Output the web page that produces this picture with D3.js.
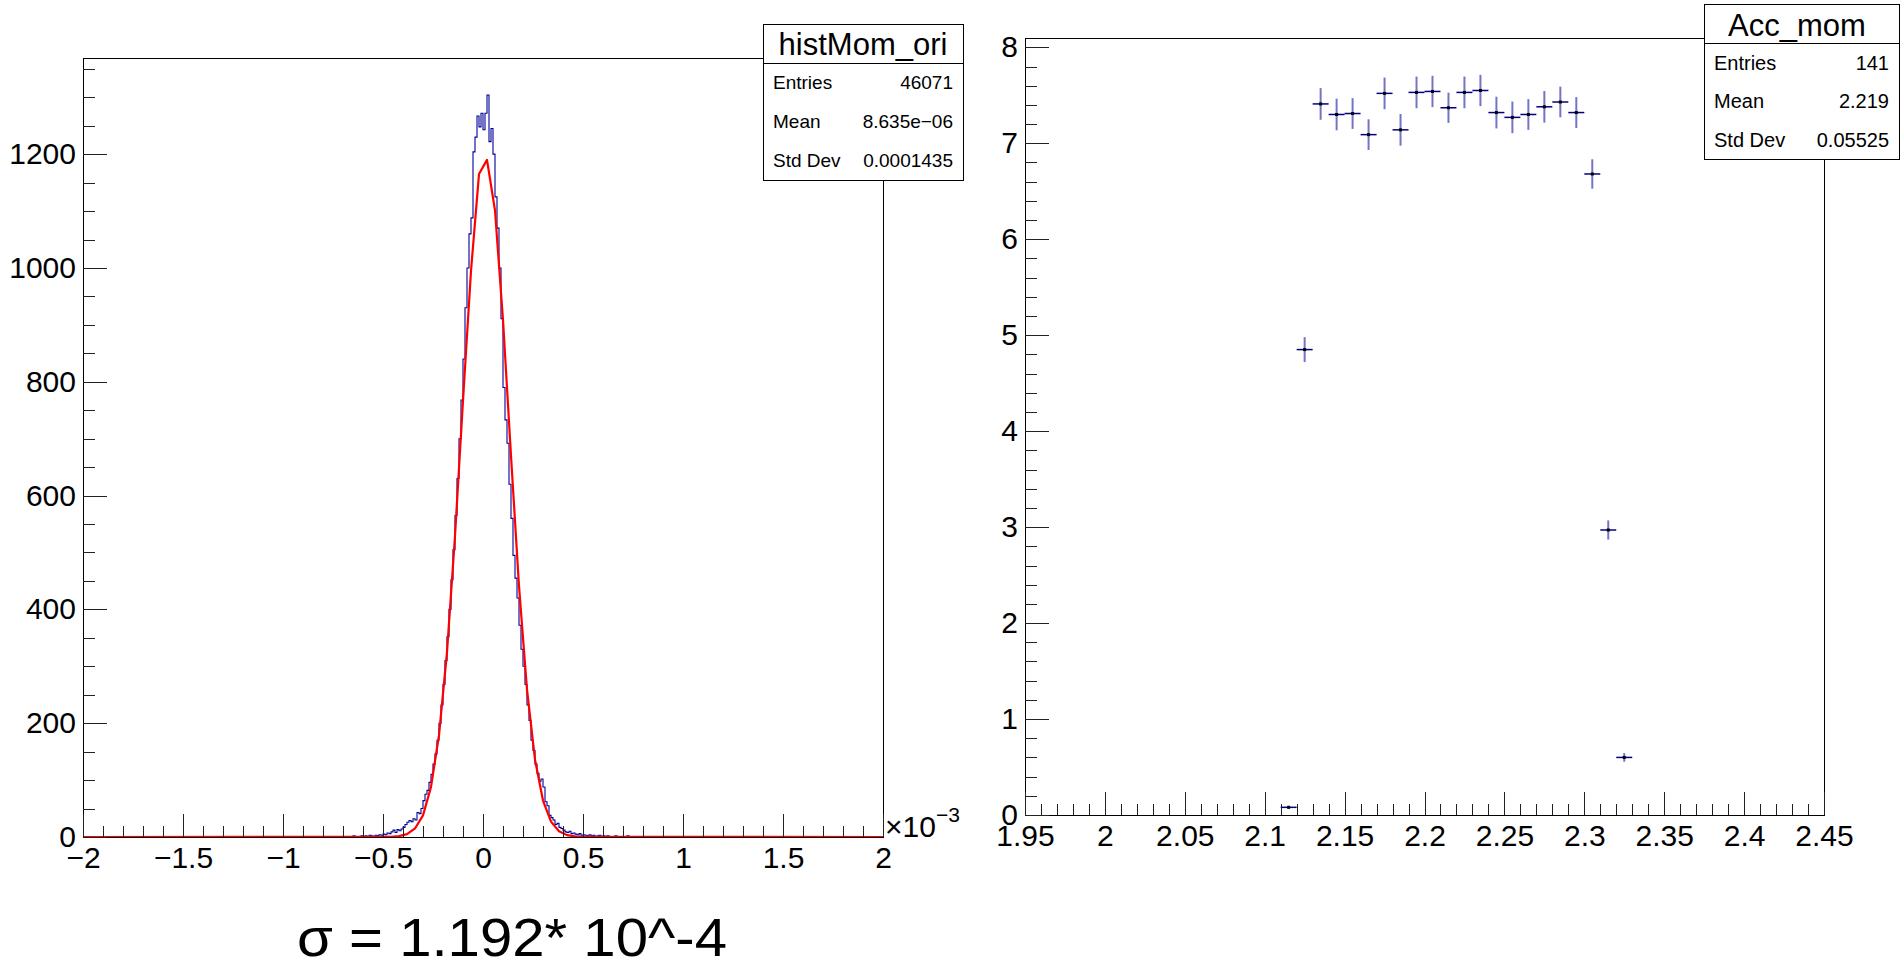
<!DOCTYPE html>
<html>
<head>
<meta charset="utf-8">
<script src="https://cdn.jsdelivr.net/npm/d3@7"></script>
<style>
  body { margin: 0; background: #fff; }
  text { font-family: "Liberation Sans", Arial, Helvetica, sans-serif; fill: #000; }
</style>
</head>
<body>
<script>
// data prep: histMom_ori (x in units of 1e-3), bins of 0.01
let histLowEdge = -1.0;
let histBinWidth = 0.01;
let histCounts = [
    1, 0, 0, 0, 0, 0, 0, 0, 0, 0,
    0, 0, 0, 0, 0, 0, 0, 0, 0, 0,
    0, 0, 0, 0, 1, 0, 0, 1, 0, 0,
    0, 1, 0, 1, 0, 2, 1, 0, 1, 2,
    1, 2, 1, 3, 2, 1, 3, 2, 4, 3,
    5, 4, 7, 6, 9, 12, 8, 13, 11, 14,
    17, 22, 26, 29, 27, 32, 30, 43, 41, 50,
    64, 75, 82, 96, 110, 128, 146, 170, 200, 232,
    268, 310, 352, 400, 452, 505, 565, 630, 700, 768,
    840, 930, 1000, 1060, 1088, 1204, 1230, 1267, 1248, 1272,
    1243, 1272, 1304, 1222, 1245, 1200, 1125, 1070, 1000, 911,
    790, 733, 692, 620, 560, 495, 455, 420, 372, 330,
    300, 268, 232, 205, 170, 152, 128, 112, 98, 102,
    88, 62, 55, 38, 34, 30, 22, 24, 17, 15,
    12, 9, 8, 10, 6, 7, 5, 4, 6, 3,
    4, 3, 2, 4, 2, 3, 1, 2, 3, 1,
    2, 1, 2, 1, 0, 1, 2, 0, 1, 1,
    1, 0, 2, 1, 0, 0, 1, 0, 0, 0,
    0, 0, 0, 1, 0, 0, 0, 0, 0, 0,
    0, 0, 1, 0, 0, 0, 0, 0, 0, 0
];
// gaussian fit curve
let fitX = [-2.0, -0.50, -0.46, -0.42, -0.38, -0.34, -0.30, -0.26, -0.22, -0.18, -0.14, -0.10, -0.06, -0.02,
            0.02, 0.06, 0.10, 0.14, 0.18, 0.22, 0.26, 0.30, 0.34, 0.38, 0.42, 0.46, 0.50, 2.0];
let fitY = [0, 0.2, 0.4, 1.6, 5, 15, 38, 88, 179, 325, 529, 767, 995, 1165,
            1190, 1101, 909, 670, 441, 259, 136, 64, 27, 10, 3.3, 1.0, 0.3, 0];

// Acc_mom points
let accBinWidth = 0.01;
let accCenters = [2.115, 2.125, 2.135, 2.145, 2.155, 2.165, 2.175, 2.185, 2.195, 2.205, 2.215,
                  2.225, 2.235, 2.245, 2.255, 2.265, 2.275, 2.285, 2.295, 2.305, 2.315, 2.325];
let accValues = [0.08, 4.85, 7.41, 7.30, 7.31, 7.09, 7.52, 7.14, 7.53, 7.54, 7.37,
                 7.53, 7.55, 7.32, 7.27, 7.30, 7.38, 7.43, 7.32, 6.68, 2.97, 0.60];
let accErrors = [0.015, 0.13, 0.165, 0.165, 0.16, 0.16, 0.165, 0.165, 0.165, 0.163, 0.158,
                 0.165, 0.163, 0.165, 0.165, 0.16, 0.165, 0.16, 0.161, 0.153, 0.10, 0.045];

// tick labels
let leftXTicks = [-2, -1.5, -1, -0.5, 0, 0.5, 1, 1.5, 2];
let leftYTicks = [0, 200, 400, 600, 800, 1000, 1200];
let rightXTicks = [1.95, 2, 2.05, 2.1, 2.15, 2.2, 2.25, 2.3, 2.35, 2.4, 2.45];
let rightYTicks = [0, 1, 2, 3, 4, 5, 6, 7, 8];

// stats boxes
let statsLeftTitle = "histMom_ori";
let statsLeftRows = [["Entries", "46071"], ["Mean", "8.635e\u221206"], ["Std Dev", "0.0001435"]];
let statsRightTitle = "Acc_mom";
let statsRightRows = [["Entries", "141"], ["Mean", "2.219"], ["Std Dev", "0.05525"]];

// colors
let colorHist = "#000099";
let colorFit = "#ff0000";
let colorErr = "#000080";

let width = 1901,
    height = 968;

let svg = d3.select("body").append("svg")
    .attr("width", width)
    .attr("height", height);

svg.append("rect").attr("width", width).attr("height", height).attr("fill", "#fff");

let minus = s => String(s).replace("-", "\u2212");

// ---------- left pad ----------
let leftX = d3.scaleLinear().domain([-2, 2]).range([83, 883]);
let leftY = d3.scaleLinear().domain([0, 1369]).range([837, 58]);

let left = svg.append("g");

// histogram outline
let histPoints = [[-2, 0], [histLowEdge, 0]];
histCounts.forEach(function(c, i) {
    let x0 = histLowEdge + i * histBinWidth;
    histPoints.push([x0, c], [x0 + histBinWidth, c]);
});
histPoints.push([histLowEdge + histCounts.length * histBinWidth, 0], [2, 0]);

let line = d3.line().x(d => leftX(d[0])).y(d => leftY(d[1]));

left.append("path")
    .attr("d", line(histPoints))
    .style("fill", "none")
    .style("stroke", colorHist)
    .style("stroke-width", 1.1);

left.append("path")
    .attr("d", line(fitX.map((x, i) => [x, fitY[i]])))
    .style("fill", "none")
    .style("stroke", colorFit)
    .style("stroke-width", 2.2)
    .style("stroke-linejoin", "round");

// frame
left.append("rect")
    .attr("x", 83).attr("y", 58).attr("width", 800).attr("height", 779)
    .attr("fill", "none").attr("stroke", "#000").attr("stroke-width", 1)
    .attr("shape-rendering", "crispEdges");

function drawAxes(g, x, y, xTicks, yTicks, xMinor, yMinor, xFmt) {
    let bottom = y.range()[0];
    let leftEdge = x.range()[0];
    g.append("g").attr("transform", "translate(0," + bottom + ")")
        .call(d3.axisBottom(x).tickValues(xTicks).tickSize(-23).tickPadding(10).tickFormat(xFmt));
    g.append("g").attr("transform", "translate(0," + bottom + ")")
        .call(d3.axisBottom(x).tickValues(xMinor).tickSize(-11).tickFormat(""));
    g.append("g").attr("transform", "translate(" + leftEdge + ",0)")
        .call(d3.axisLeft(y).tickValues(yTicks).tickSize(-24).tickPadding(7).tickFormat(d => String(d)));
    g.append("g").attr("transform", "translate(" + leftEdge + ",0)")
        .call(d3.axisLeft(y).tickValues(yMinor).tickSize(-12).tickFormat(""));
    g.selectAll(".domain").remove();
    g.selectAll(".tick line").attr("stroke", "#222").attr("shape-rendering", "crispEdges");
    g.selectAll(".tick text").style("font-size", "30px");
}

let leftXMinor = d3.range(-20, 21).map(k => k / 10);
let leftYMinor = d3.range(0, 28).map(k => k * 50);
drawAxes(left, leftX, leftY, leftXTicks, leftYTicks, leftXMinor, leftYMinor, minus);

// x10^-3 multiplier
let mult = left.append("text").attr("x", 885).attr("y", 837).style("font-size", "30px");
mult.append("tspan").text("\u00d710");
mult.append("tspan").attr("dy", -15).style("font-size", "21px").text("\u22123");

// sigma note
svg.append("text")
    .attr("x", 297).attr("y", 956)
    .attr("textLength", 430).attr("lengthAdjust", "spacingAndGlyphs")
    .style("font-size", "54px")
    .text("\u03c3 = 1.192* 10^-4");

// ---------- right pad ----------
let rightX = d3.scaleLinear().domain([1.95, 2.45]).range([1025, 1824]);
let rightY = d3.scaleLinear().domain([0, 8.097]).range([815, 38]);

let right = svg.append("g");

right.append("rect")
    .attr("x", 1025).attr("y", 38).attr("width", 799).attr("height", 777)
    .attr("fill", "none").attr("stroke", "#000").attr("stroke-width", 1)
    .attr("shape-rendering", "crispEdges");

let rightXMinor = d3.range(195, 246).map(k => k / 100);
let rightYMinor = d3.range(0, 41).map(k => k / 5);
drawAxes(right, rightX, rightY, rightXTicks, rightYTicks, rightXMinor, rightYMinor, d => String(d));

let pts = right.selectAll(".pt")
    .data(accCenters.map((c, i) => ({x: c, y: accValues[i], e: accErrors[i]})))
    .enter().append("g").attr("class", "pt");

pts.append("line")
    .attr("x1", d => rightX(d.x)).attr("x2", d => rightX(d.x))
    .attr("y1", d => rightY(d.y - d.e)).attr("y2", d => rightY(d.y + d.e))
    .style("stroke", colorHist).style("stroke-opacity", 0.55).style("stroke-width", 2);

pts.append("line")
    .attr("x1", d => rightX(d.x - accBinWidth / 2)).attr("x2", d => rightX(d.x + accBinWidth / 2))
    .attr("y1", d => rightY(d.y)).attr("y2", d => rightY(d.y))
    .style("stroke", colorErr).style("stroke-width", 1.5);

pts.append("rect")
    .attr("x", d => rightX(d.x) - 1.5).attr("y", d => rightY(d.y) - 1.5)
    .attr("width", 3).attr("height", 3).attr("fill", "#000");

// ---------- stats boxes ----------
function statsBox(x0, y0, w, titleH, rowH, title, rows, titleX, fs) {
    let g = svg.append("g");
    g.append("rect")
        .attr("x", x0).attr("y", y0).attr("width", w).attr("height", titleH + rowH * rows.length)
        .attr("fill", "#fff").attr("stroke", "#000").attr("shape-rendering", "crispEdges");
    g.append("line")
        .attr("x1", x0).attr("x2", x0 + w).attr("y1", y0 + titleH).attr("y2", y0 + titleH)
        .attr("stroke", "#000").attr("shape-rendering", "crispEdges");
    g.append("text")
        .attr("x", titleX).attr("y", y0 + titleH - 8)
        .attr("text-anchor", "middle").style("font-size", "31px")
        .text(title);
    rows.forEach(function(r, i) {
        let by = y0 + titleH + rowH * (i + 0.5) + fs * 0.35;
        g.append("text").attr("x", x0 + 10).attr("y", by).style("font-size", fs + "px").text(r[0]);
        g.append("text").attr("x", x0 + w - 10).attr("y", by)
            .attr("text-anchor", "end").style("font-size", fs + "px").text(r[1]);
    });
}

statsBox(763, 24, 200, 39, 39, statsLeftTitle, statsLeftRows, 863, 19);
statsBox(1704, 4, 195, 39.5, 38.5, statsRightTitle, statsRightRows, 1797, 20);
</script>
</body>
</html>
